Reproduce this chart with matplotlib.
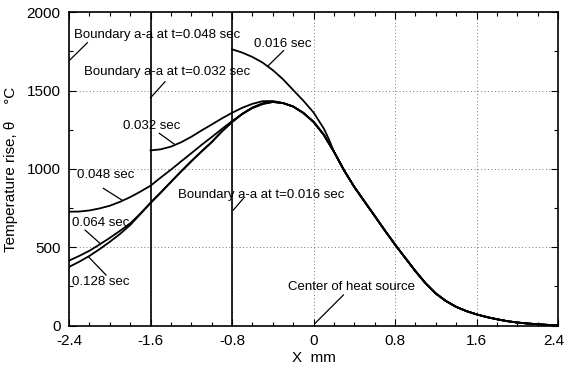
import numpy as np
import matplotlib
matplotlib.use('Agg')
import matplotlib.pyplot as plt
import matplotlib.transforms as mtrans
from matplotlib.ticker import MultipleLocator

plt.rcParams['font.family'] = ['Liberation Sans', 'DejaVu Sans']

# --- data (X in mm, temperature rise in deg C) ---
# shared tail to the right of the heat source (all curves coincide there)
x_tail = [0.2, 0.3, 0.4, 0.5, 0.6, 0.7, 0.8, 0.9, 1.0, 1.1, 1.2, 1.3, 1.4,
          1.5, 1.6, 1.7, 1.8, 1.9, 2.0, 2.1, 2.2, 2.3, 2.4]
y_tail = [1110, 990, 885, 792, 700, 607, 517, 432, 348, 270, 205, 157, 120,
          93, 72, 55, 41, 29, 20, 14, 9, 5, 3]

# common part of the later curves after the peak
x_peak = [-0.3, -0.2, -0.1, 0.0, 0.1]
y_peak = [1420, 1398, 1357, 1300, 1218]

x_016 = [-0.8, -0.7, -0.6, -0.5, -0.4, -0.3, -0.2, -0.1, 0.0, 0.1, 0.15]
y_016 = [1763, 1742, 1714, 1678, 1630, 1572, 1503, 1435, 1360, 1258, 1190]

x_032 = [-1.6, -1.5, -1.4, -1.3, -1.2, -1.1, -1.0, -0.9, -0.8, -0.7, -0.6,
         -0.5, -0.4]
y_032 = [1118, 1125, 1142, 1170, 1205, 1245, 1283, 1322, 1358, 1390, 1415,
         1432, 1433]

x_048 = [-2.4, -2.3, -2.2, -2.1, -2.0, -1.9, -1.8, -1.7, -1.6, -1.5, -1.4,
         -1.3, -1.2, -1.1, -1.0, -0.9, -0.8, -0.7, -0.6, -0.5, -0.4]
y_048 = [727, 728, 735, 748, 765, 790, 820, 855, 893, 945, 995,
         1048, 1100, 1153, 1203, 1255, 1305, 1350, 1388, 1413, 1427]

x_064 = [-2.4, -2.3, -2.2, -2.1, -2.0, -1.9, -1.8, -1.7, -1.6, -1.5, -1.4,
         -1.3, -1.2, -1.1, -1.0, -0.9, -0.8, -0.7, -0.6, -0.5, -0.4]
y_064 = [415, 445, 478, 518, 560, 605, 652, 715, 785, 850, 918,
         985, 1050, 1112, 1172, 1240, 1300, 1352, 1392, 1418, 1428]

x_128 = [-2.4, -2.3, -2.2, -2.1, -2.0, -1.9, -1.8, -1.7, -1.6, -1.5, -1.4,
         -1.3, -1.2, -1.1, -1.0, -0.9, -0.8, -0.7, -0.6, -0.5, -0.4]
y_128 = [375, 408, 445, 488, 535, 585, 642, 712, 782, 848, 916,
         983, 1048, 1110, 1170, 1238, 1298, 1350, 1390, 1417, 1427]

boundaries = [-1.6, -0.8]

xticks = [-2.4, -1.6, -0.8, 0, 0.8, 1.6, 2.4]
xticklabels = ['-2.4', '-1.6', '-0.8', '0', '0.8', '1.6', '2.4']
yticks = [0, 500, 1000, 1500, 2000]

fig = plt.figure(figsize=(5.66, 3.68), dpi=100)
ax = fig.add_axes([0.122, 0.115, 0.864, 0.852])

lw = 1.3
ax.plot(x_016 + x_tail, y_016 + y_tail, color='black', lw=lw)
for xs, ys in [(x_032, y_032), (x_048, y_048), (x_064, y_064), (x_128, y_128)]:
    ax.plot(xs + x_peak + x_tail, ys + y_peak + y_tail, color='black', lw=lw)

for b in boundaries:
    ax.axvline(b, color='black', lw=1.2)

ax.set_xlim(-2.4, 2.4)
ax.set_ylim(0, 2000)
ax.set_xticks(xticks)
ax.set_xticklabels(xticklabels)
ax.set_yticks(yticks)
ax.xaxis.set_minor_locator(MultipleLocator(0.2))
ax.yaxis.set_minor_locator(MultipleLocator(250))
ax.tick_params(which='both', direction='in', top=True, right=True,
               labelsize=11, width=0.8)
ax.tick_params(which='major', length=5, pad=6)
ax.tick_params(which='minor', length=3)
ax.grid(True, which='major', color='#777777', ls=(0, (1, 2.5)), lw=0.7)
for s in ax.spines.values():
    s.set_linewidth(1.2)

# last x label sits at the figure edge, keep it inside
last = ax.get_xticklabels()[-1]
last.set_ha('right')
last.set_transform(last.get_transform() +
                   mtrans.ScaledTranslation(6 / 100, 0, fig.dpi_scale_trans))

ax.set_xlabel('X  mm', fontsize=11, labelpad=2)
ax.set_ylabel('Temperature rise, θ    °C', fontsize=11, labelpad=6)

fs = 9.5
notes = [
    ('Boundary a-a at t=0.048 sec', (-2.35, 1854), (-2.22, 1805), (-2.4, 1690)),
    ('Boundary a-a at t=0.032 sec', (-2.25, 1618), (-1.458, 1556), (-1.6, 1454)),
    ('0.016 sec', (-0.58, 1797), (-0.295, 1754), (-0.449, 1656)),
    ('0.032 sec', (-1.87, 1273), (-1.514, 1227), (-1.369, 1159)),
    ('0.048 sec', (-2.32, 961), (-2.063, 876), (-1.883, 802)),
    ('0.064 sec', (-2.37, 655), (-2.243, 610), (-2.096, 525)),
    ('0.128 sec', (-2.37, 279), (-2.037, 323), (-2.21, 440)),
    ('Boundary a-a at t=0.016 sec', (-1.33, 833), (-0.689, 812), (-0.787, 738)),
    ('Center of heat source', (-0.25, 247), (0.293, 196), (0.015, 15)),
]
for txt, tpos, p0, p1 in notes:
    ax.text(tpos[0], tpos[1], txt, fontsize=fs, ha='left', va='center')
    ax.plot([p0[0], p1[0]], [p0[1], p1[1]], color='black', lw=0.9)

fig.savefig('out.png', dpi=100)
